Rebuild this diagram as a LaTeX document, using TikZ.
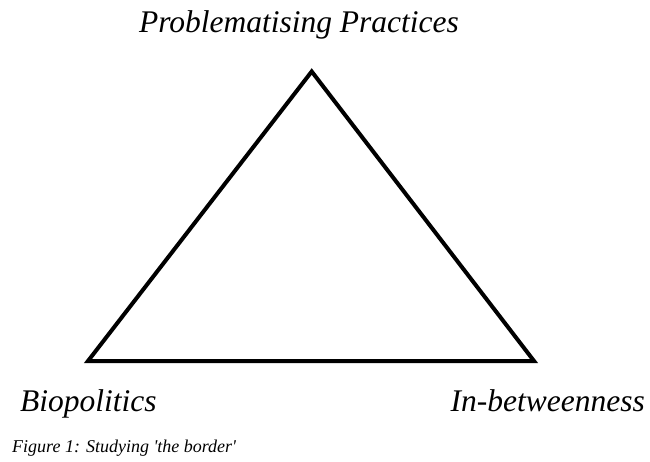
\documentclass[tikz,border=0pt]{standalone}
\usepackage{fontspec}
\setmainfont{Liberation Serif}

\begin{document}
\begin{tikzpicture}[x=1pt,y=-1pt,
	corner/.style={font=\itshape\fontsize{31.5}{36}\selectfont, inner sep=0pt},
	caption/.style={font=\itshape\fontsize{18}{21}\selectfont, inner sep=0pt, anchor=base west}]
	\useasboundingbox (0,0) rectangle (650,462);

	\coordinate (top) at (311.7,71.5);
	\coordinate (left) at (88,361);
	\coordinate (right) at (534,361);

	\draw[line width=4pt, line join=miter] (top) -- (right) -- (left) -- cycle;

	\node[corner, anchor=base] (problematising) at (299,33) {Problematising Practices};
	\node[corner, anchor=base west] (biopolitics) at (20,411) {Biopolitics};
	\node[corner, anchor=base east] (inbetween) at (645,411) {In-betweenness};

	\node[caption] (figcaption) at (12,452) {Figure 1: Studying \textquotesingle the border\textquotesingle};
\end{tikzpicture}
\end{document}
